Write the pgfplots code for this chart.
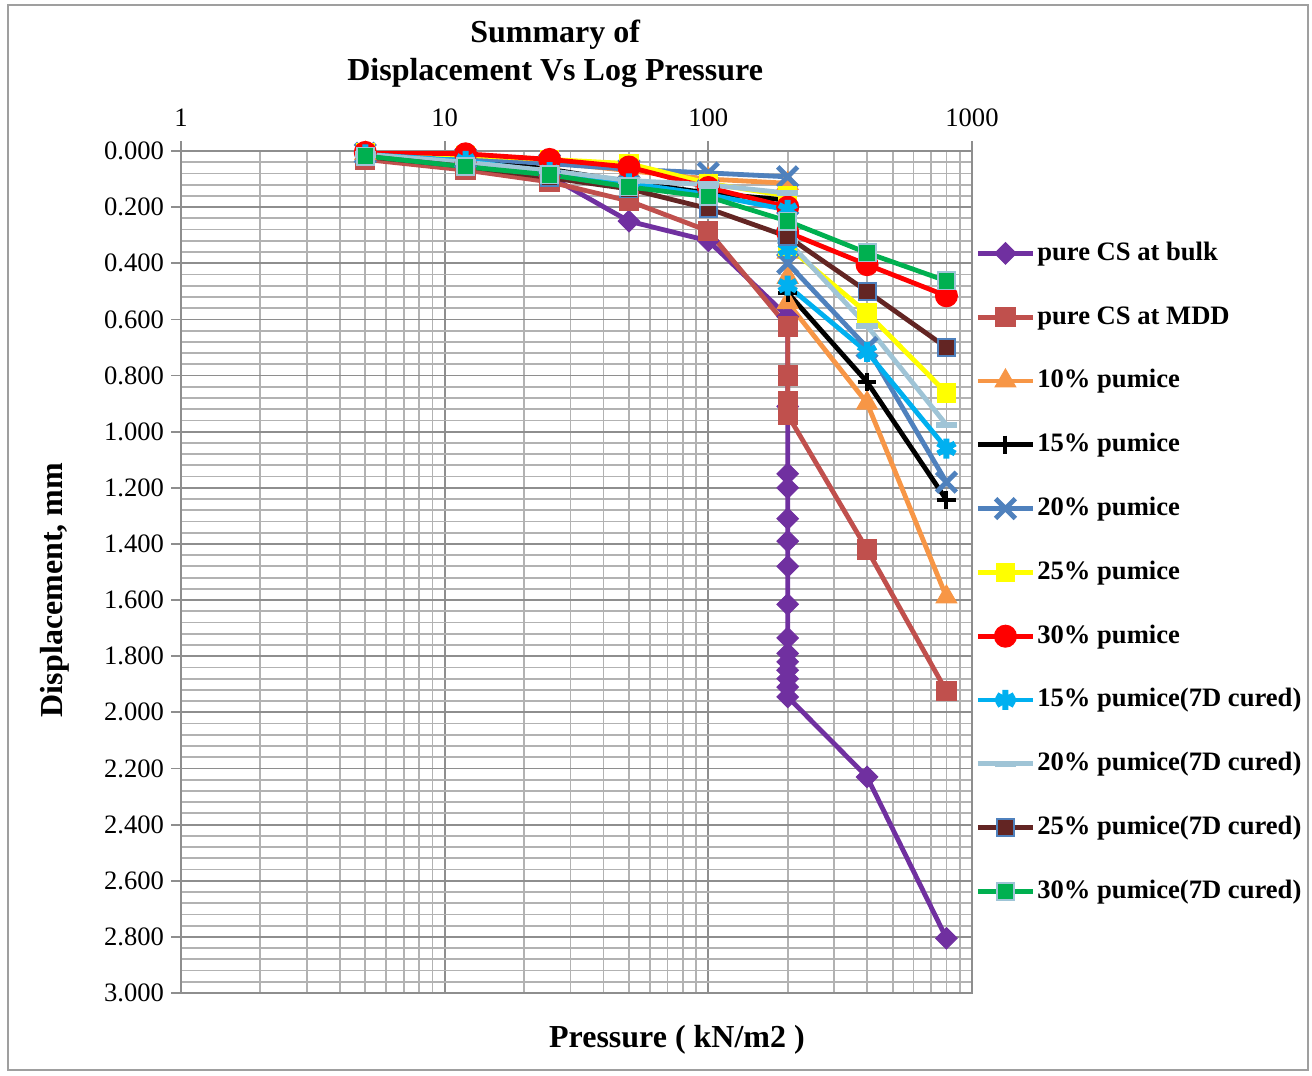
\documentclass[border=0pt]{standalone}
\usepackage{pgfplots}
\pgfplotsset{compat=1.18}
\usepackage{fontspec}
\setmainfont{Liberation Serif}

\definecolor{cBulk}{HTML}{7030A0}
\definecolor{cMDD}{HTML}{C0504D}
\definecolor{cTen}{HTML}{F79646}
\definecolor{cFift}{HTML}{000000}
\definecolor{cTwen}{HTML}{4F81BD}
\definecolor{cTwfv}{HTML}{FFFF00}
\definecolor{cThir}{HTML}{FF0000}
\definecolor{cFiftC}{HTML}{00B0F0}
\definecolor{cTwenC}{HTML}{9FC4D6}
\definecolor{cTwfvC}{HTML}{632523}
\definecolor{cThirC}{HTML}{00B050}
\definecolor{gridmaj}{HTML}{8E8E8E}
\definecolor{gridmin}{HTML}{B2B2B2}

\begin{document}
\begin{tikzpicture}
\begin{axis}[
  name=ax,
  scale only axis,
  width=395.5pt, height=421pt,
  xmode=log, xmin=1, xmax=1000,
  ymin=0, ymax=3, y dir=reverse,
  xtick={1,10,100,1000}, xticklabels={1,10,100,1000},
  minor xtick={2,3,4,5,6,7,8,9,20,30,40,50,60,70,80,90,200,300,400,500,600,700,800,900},
  ytick={0,0.2,0.4,0.6,0.8,1.0,1.2,1.4,1.6,1.8,2.0,2.2,2.4,2.6,2.8,3.0},
  minor ytick={0.04,0.08,0.12,0.16,0.24,0.28,0.32,0.36,0.44,0.48,0.52,0.56,
    0.64,0.68,0.72,0.76,0.84,0.88,0.92,0.96,1.04,1.08,1.12,1.16,
    1.24,1.28,1.32,1.36,1.44,1.48,1.52,1.56,1.64,1.68,1.72,1.76,
    1.84,1.88,1.92,1.96,2.04,2.08,2.12,2.16,2.24,2.28,2.32,2.36,
    2.44,2.48,2.52,2.56,2.64,2.68,2.72,2.76,2.84,2.88,2.92,2.96},
  xtick pos=upper, xticklabel pos=upper,
  ytick pos=left,
  tick align=outside,
  major tick length=5pt, minor tick length=0pt,
  grid=both,
  major grid style={gridmaj, line width=0.9pt},
  minor grid style={gridmin, line width=0.9pt},
  axis line style={gridmaj, line width=0.9pt},
  tick style={gridmaj, line width=0.9pt},
  /pgf/number format/assume math mode=true,
  yticklabel style={/pgf/number format/.cd, fixed, fixed zerofill, precision=3},
  xticklabel style={yshift=3.5pt},
  tick label style={font=\fontsize{13.3}{16}\selectfont},
  title={Summary of\\Displacement Vs Log Pressure},
  title style={at={(axis description cs:0.473,1.101)}, anchor=center, align=center,
    font=\bfseries\fontsize{16}{19}\selectfont},
  xlabel={Pressure ( kN/m2 )},
  xlabel style={at={(axis description cs:0.627,-0.0558)}, anchor=center,
    font=\bfseries\fontsize{16}{19}\selectfont},
  ylabel={Displacement, mm},
  ylabel style={at={(axis description cs:-0.159,0.4786)}, anchor=center, rotate=0,
    font=\bfseries\fontsize{16}{19}\selectfont},
  legend style={at={(rel axis cs:1.004,0.8967)}, anchor=north west,
    draw=none, fill=none, inner sep=0pt,
    font=\bfseries\fontsize{13.3}{16}\selectfont,
    nodes={text height=10pt, text depth=3pt, inner sep=1pt},
    row sep=16.9pt, column sep=0pt},
  legend cell align=left,
  legend image code/.code={\draw[mark repeat=2,mark phase=2]
    plot coordinates {(0pt,0pt) (13.75pt,0pt) (27.5pt,0pt)};},
  every axis plot/.append style={line width=2.4pt},
]
% pure CS, bulk density
\addplot[color=cBulk, mark=square*, mark size=3.8pt,
  mark options={solid, rotate=45, fill=cBulk, draw=cBulk, line width=0.5pt}]
  coordinates {(5,0.010)(12,0.040)(25,0.090)(50,0.250)(100,0.320)
  (200,0.590)(200,0.910)(200,1.150)(200,1.200)(200,1.310)(200,1.390)(200,1.480)
  (200,1.615)(200,1.735)(200,1.790)(200,1.820)(200,1.850)(200,1.880)(200,1.910)
  (200,1.945)(400,2.230)(800,2.805)};
\addlegendentry{pure CS at bulk}
% pure CS, maximum dry density
\addplot[color=cMDD, mark=square*, mark size=4.8pt,
  mark options={solid, fill=cMDD, draw=cMDD, line width=0.5pt}]
  coordinates {(5,0.030)(12,0.068)(25,0.110)(50,0.178)(100,0.285)
  (200,0.625)(200,0.800)(200,0.890)(200,0.940)(400,1.420)(800,1.925)};
\addlegendentry{pure CS at MDD}
% 10 % pumice
\addplot[color=cTen, mark=triangle*, mark size=6pt,
  mark options={solid, fill=cTen, draw=cTen, line width=0.5pt}]
  coordinates {(5,0.008)(12,0.020)(25,0.040)(50,0.070)(100,0.100)
  (200,0.115)(200,0.360)(200,0.450)(200,0.540)(400,0.898)(800,1.589)};
\addlegendentry{10\% pumice}
% 15 % pumice
\addplot[color=cFift, mark=+, mark size=4.6pt,
  mark options={solid, line width=2pt}]
  coordinates {(5,0.010)(12,0.030)(25,0.065)(50,0.110)(100,0.150)
  (200,0.175)(200,0.330)(200,0.505)(400,0.823)(800,1.243)};
\addlegendentry{15\% pumice}
% 20 % pumice
\addplot[color=cTwen, mark=x, mark size=7pt,
  mark options={solid, line width=2.4pt}]
  coordinates {(5,0.008)(12,0.025)(25,0.045)(50,0.065)(100,0.078)
  (200,0.092)(200,0.250)(200,0.400)(400,0.700)(800,1.180)};
\addlegendentry{20\% pumice}
% 25 % pumice
\addplot[color=cTwfv, mark=square*, mark size=4.6pt,
  mark options={solid, fill=cTwfv, draw=cTwfv, line width=0.5pt}]
  coordinates {(5,0.005)(12,0.015)(25,0.030)(50,0.045)(100,0.115)
  (200,0.160)(200,0.340)(400,0.577)(800,0.862)};
\addlegendentry{25\% pumice}
% 30 % pumice
\addplot[color=cThir, mark=*, mark size=5.5pt,
  mark options={solid, fill=cThir, draw=cThir, line width=0.5pt}]
  coordinates {(5,0.005)(12,0.010)(25,0.030)(50,0.057)(100,0.130)
  (200,0.200)(200,0.290)(400,0.405)(800,0.516)};
\addlegendentry{30\% pumice}
% 15 % pumice, 7 days cured
\addplot[color=cFiftC, mark=asterisk, mark size=5pt,
  mark options={solid, line width=3pt}]
  coordinates {(5,0.012)(12,0.035)(25,0.075)(50,0.115)(100,0.155)
  (200,0.210)(200,0.350)(200,0.480)(400,0.716)(800,1.060)};
\addlegendentry{15\% pumice(7D cured)}
% 20 % pumice, 7 days cured
\addplot[color=cTwenC, mark=-, mark size=5.3pt,
  mark options={solid, line width=3.2pt}]
  coordinates {(5,0.012)(12,0.040)(25,0.070)(50,0.105)(100,0.120)
  (200,0.150)(200,0.320)(400,0.623)(800,0.976)};
\addlegendentry{20\% pumice(7D cured)}
% 25 % pumice, 7 days cured
\addplot[color=cTwfvC, mark=square*, mark size=4.3pt,
  mark options={solid, fill=cTwfvC, draw=cTwen, line width=0.9pt}]
  coordinates {(5,0.020)(12,0.055)(25,0.095)(50,0.135)(100,0.205)
  (200,0.305)(400,0.500)(800,0.700)};
\addlegendentry{25\% pumice(7D cured)}
% 30 % pumice, 7 days cured
\addplot[color=cThirC, mark=square*, mark size=4.3pt,
  mark options={solid, fill=cThirC, draw=cTwenC, line width=0.9pt}]
  coordinates {(5,0.018)(12,0.056)(25,0.085)(50,0.128)(100,0.163)
  (200,0.250)(400,0.363)(800,0.463)};
\addlegendentry{30\% pumice(7D cured)}
\end{axis}
% chart area frame
\draw[gray!75, line width=0.9pt]
  ([xshift=-86.5pt,yshift=-38.5pt]ax.south west) rectangle
  ([xshift=168pt,yshift=73pt]ax.north east);
\useasboundingbox
  ([xshift=-90.5pt,yshift=-41.5pt]ax.south west) rectangle
  ([xshift=170pt,yshift=75.5pt]ax.north east);
\end{tikzpicture}
\end{document}
